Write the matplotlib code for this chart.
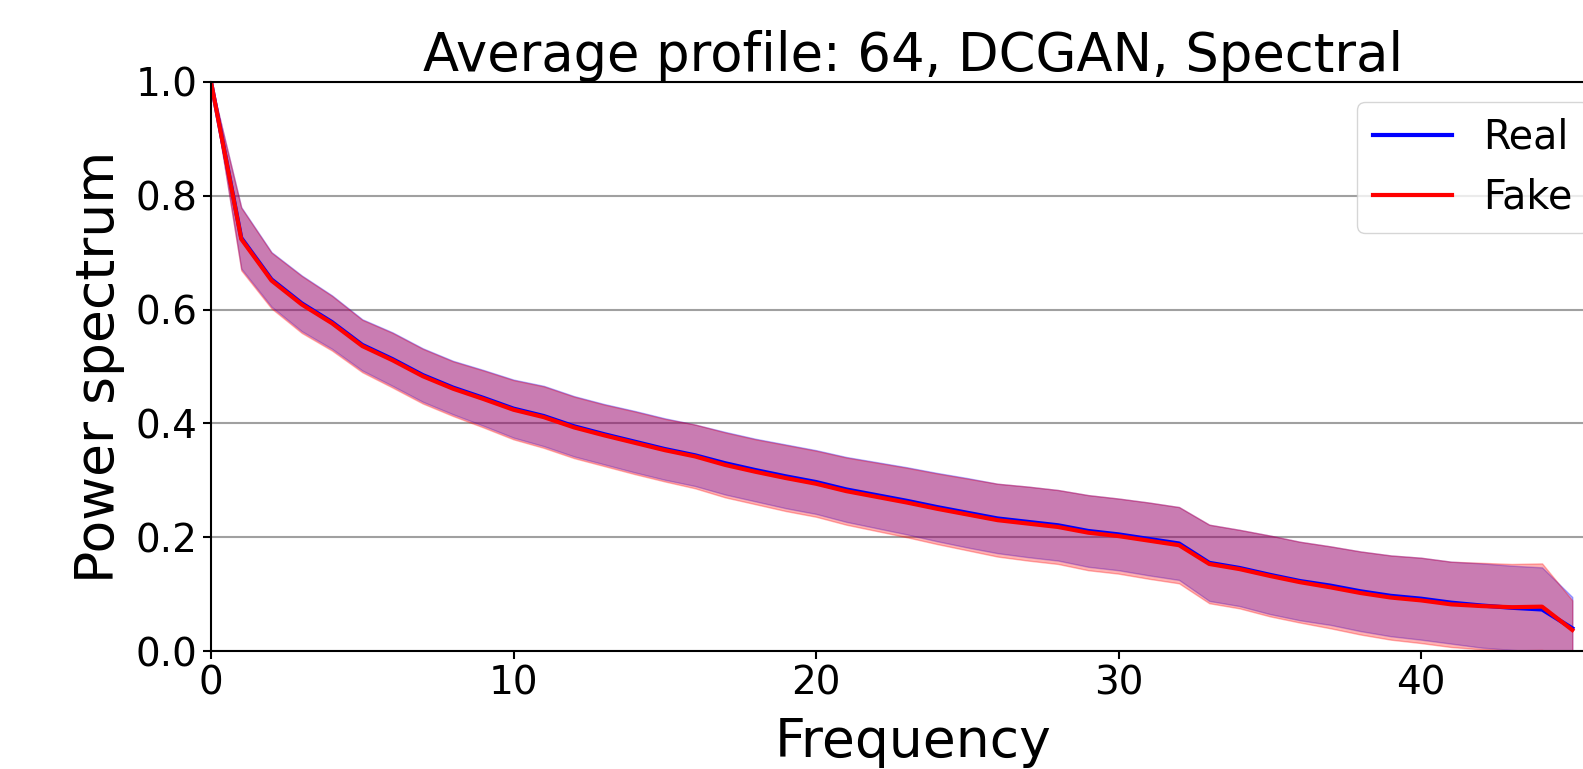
import numpy as np
import matplotlib.pyplot as plt

# radial frequency index
freq = list(range(46))

# mean profiles
real_mean = [1.0, 0.726, 0.653, 0.611, 0.578, 0.538, 0.513, 0.485, 0.463, 0.445,
             0.426, 0.413, 0.395, 0.381, 0.368, 0.355, 0.344, 0.330, 0.318, 0.307,
             0.297, 0.284, 0.274, 0.264, 0.253, 0.243, 0.233, 0.227, 0.221, 0.211,
             0.205, 0.197, 0.189, 0.155, 0.146, 0.134, 0.123, 0.115, 0.105, 0.097,
             0.092, 0.085, 0.080, 0.076, 0.073, 0.040]
fake_mean = [1.0, 0.724, 0.651, 0.609, 0.576, 0.536, 0.511, 0.483, 0.461, 0.443,
             0.424, 0.411, 0.393, 0.379, 0.366, 0.353, 0.342, 0.327, 0.315, 0.304,
             0.294, 0.281, 0.271, 0.261, 0.250, 0.240, 0.230, 0.224, 0.218, 0.208,
             0.202, 0.194, 0.186, 0.153, 0.144, 0.132, 0.121, 0.112, 0.102, 0.094,
             0.089, 0.082, 0.079, 0.077, 0.078, 0.037]

# standard deviation (band half width)
real_std = [0.0, 0.054, 0.048, 0.049, 0.047, 0.045, 0.047, 0.047, 0.047, 0.049,
            0.051, 0.053, 0.053, 0.053, 0.054, 0.054, 0.054, 0.055, 0.055, 0.056,
            0.056, 0.057, 0.058, 0.059, 0.060, 0.061, 0.061, 0.062, 0.062, 0.063,
            0.063, 0.064, 0.064, 0.067, 0.067, 0.069, 0.069, 0.069, 0.070, 0.071,
            0.072, 0.072, 0.074, 0.074, 0.074, 0.055]
fake_std = [0.0, 0.055, 0.049, 0.050, 0.048, 0.046, 0.048, 0.048, 0.048, 0.050,
            0.052, 0.054, 0.054, 0.054, 0.055, 0.055, 0.056, 0.057, 0.057, 0.058,
            0.058, 0.059, 0.060, 0.061, 0.062, 0.063, 0.064, 0.065, 0.065, 0.066,
            0.066, 0.067, 0.067, 0.069, 0.069, 0.071, 0.071, 0.072, 0.073, 0.074,
            0.075, 0.075, 0.076, 0.076, 0.076, 0.052]

freq = np.array(freq)
real_mean, fake_mean = np.array(real_mean), np.array(fake_mean)
real_std, fake_std = np.array(real_std), np.array(fake_std)

fig = plt.figure(figsize=(15.83, 7.69), dpi=100)
ax = fig.add_axes([0.1333, 0.1534, 0.8867, 0.74])

ax.plot(freq, real_mean, color="blue", lw=3, label="Real")
ax.fill_between(freq, real_mean - real_std, real_mean + real_std, color="blue", alpha=0.3)
ax.plot(freq, fake_mean, color="red", lw=3, label="Fake")
ax.fill_between(freq, fake_mean - fake_std, fake_mean + fake_std, color="red", alpha=0.3)

ax.set_xlim(0, 46.4)
ax.set_ylim(0, 1)
ax.set_yticks([0.0, 0.2, 0.4, 0.6, 0.8, 1.0])
ax.yaxis.grid(True, color="#a0a0a0", lw=1.5)
ax.set_axisbelow(True)
ax.tick_params(labelsize=28, width=1.5, length=6)
for s in ax.spines.values():
    s.set_linewidth(1.5)

ax.set_title("Average profile: 64, DCGAN, Spectral", fontsize=38)
ax.set_xlabel("Frequency", fontsize=38.5, labelpad=10)
ax.set_ylabel("Power spectrum", fontsize=38.5, labelpad=8)
ax.legend(loc="upper right", fontsize=28.5, bbox_to_anchor=(0.9957, 1))

fig.savefig("out.png", dpi=100)
